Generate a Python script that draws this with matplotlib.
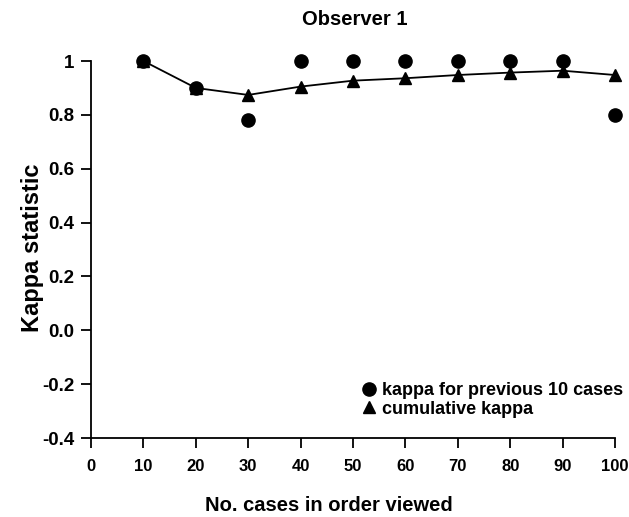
import matplotlib.pyplot as plt

plt.rcParams['font.family'] = ['Liberation Sans', 'DejaVu Sans']
plt.rcParams['font.weight'] = 'bold'

cases = [10, 20, 30, 40, 50, 60, 70, 80, 90, 100]
kappa_prev10 = [1.0, 0.90, 0.78, 1.0, 1.0, 1.0, 1.0, 1.0, 1.0, 0.80]
kappa_cum = [1.0, 0.90, 0.874, 0.905, 0.927, 0.936, 0.948, 0.957, 0.964, 0.948]
yticks = [-0.4, -0.2, 0.0, 0.2, 0.4, 0.6, 0.8, 1.0]
ytick_labels = ['-0.4', '-0.2', '0.0', '0.2', '0.4', '0.6', '0.8', '1']

fig = plt.figure(figsize=(6.29, 5.17), dpi=100)
ax = fig.add_axes([0.1447, 0.1528, 0.8331, 0.7292])

# line through the cumulative values, markers drawn separately
ax.plot(cases, kappa_cum, color='black', lw=1.3, clip_on=False, zorder=2)
ax.plot(cases, kappa_cum, color='black', lw=0, marker='^', ms=9,
        clip_on=False, zorder=3, label='cumulative kappa')
ax.plot(cases, kappa_prev10, color='black', lw=0, marker='o', ms=9.5,
        clip_on=False, zorder=4, label='kappa for previous 10 cases')

ax.set_xlim(0, 100)
ax.set_ylim(-0.4, 1.0)
ax.set_xticks(range(0, 101, 10))
ax.set_yticks(yticks)
ax.set_yticklabels(ytick_labels)
ax.spines['top'].set_visible(False)
ax.spines['right'].set_visible(False)
for s in ['left', 'bottom']:
    ax.spines[s].set_linewidth(1.3)
ax.tick_params(direction='out', length=7, width=1.3)
ax.tick_params(axis='x', labelsize=12, pad=8)
ax.tick_params(axis='y', labelsize=13.5, pad=5)

# title / axis labels placed where they sit in the original
ax.text(0.504, 1.11, 'Observer 1', transform=ax.transAxes, fontsize=14.5,
        fontweight='bold', ha='center', va='center')
ax.set_xlabel('No. cases in order viewed', fontsize=14.5, fontweight='bold', va='center')
ax.xaxis.set_label_coords(0.454, -0.178)
ax.set_ylabel('Kappa statistic', fontsize=17, fontweight='bold', va='center')
ax.yaxis.set_label_coords(-0.112, 0.504)

h, l = ax.get_legend_handles_labels()
ax.legend(h[::-1], l[::-1], loc='lower right', bbox_to_anchor=(1.032, 0.03),
          frameon=False, fontsize=13, handlelength=0.8, handletextpad=0.3,
          labelspacing=0.1, borderpad=0)

fig.savefig('out.png', dpi=100)
